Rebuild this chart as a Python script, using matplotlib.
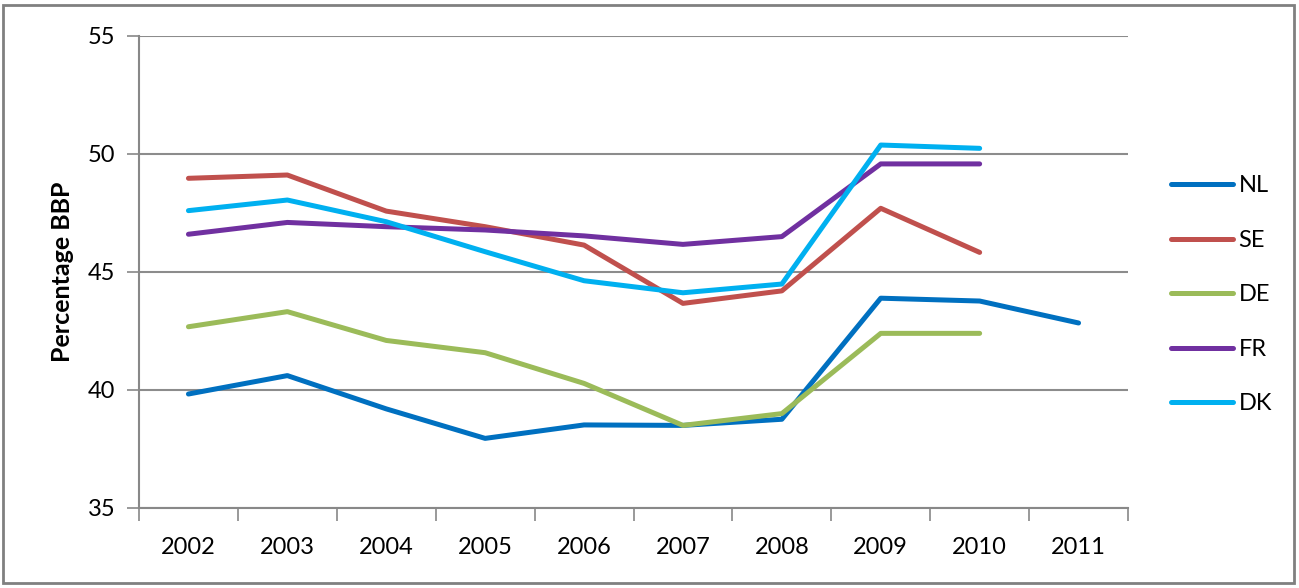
import matplotlib
matplotlib.use("Agg")
import matplotlib.pyplot as plt
from matplotlib.patches import Rectangle
import numpy as np

years = ["2002", "2003", "2004", "2005", "2006", "2007", "2008", "2009", "2010", "2011"]
nl = [39.83, 40.61, 39.2, 37.95, 38.52, 38.5, 38.76, 43.89, 43.77, 42.84]
se = [48.97, 49.11, 47.58, 46.92, 46.14, 43.67, 44.2, 47.7, 45.83, None]
de = [42.68, 43.32, 42.1, 41.58, 40.28, 38.5, 39.0, 42.4, 42.4, None]
fr = [46.6, 47.1, 46.92, 46.78, 46.53, 46.17, 46.5, 49.58, 49.58, None]
dk = [47.6, 48.05, 47.13, 45.86, 44.63, 44.12, 44.49, 50.38, 50.24, None]
series_names = ["NL", "SE", "DE", "FR", "DK"]
series_vals = [nl, se, de, fr, dk]
colors = ["#0070C0", "#C0504D", "#9BBB59", "#7030A0", "#00B0F0"]
yticks = [35, 40, 45, 50, 55]

plt.rcParams['font.family'] = ['Lato', 'DejaVu Sans']

W, H = 1299, 588
fig = plt.figure(figsize=(W / 100, H / 100), dpi=100)
ax = fig.add_axes([139 / W, (H - 508) / H, (1128 - 139) / W, (508 - 36) / H])

x = np.arange(len(years))
for name, vals, c in zip(series_names, series_vals, colors):
    v = np.array([np.nan if a is None else a for a in vals], dtype=float)
    ax.plot(x, v, color=c, lw=3.6, label=name, solid_capstyle='round', solid_joinstyle='round')

ax.set_xlim(-0.5, len(years) - 0.5)
ax.set_ylim(35, 55)
ax.set_yticks(yticks)
ax.set_yticklabels([str(t) for t in yticks], fontsize=17)
ax.set_xticks(np.arange(-0.5, len(years), 1.0))
ax.set_xticklabels([])
ax.set_xticks(x, minor=True)
ax.set_xticklabels(years, minor=True, fontsize=17)
ax.tick_params(axis='x', which='minor', length=0, pad=21)
ax.tick_params(axis='x', which='major', length=9, width=1.2, color='#888888', direction='out')
ax.tick_params(axis='y', length=9, width=1.2, color='#888888', direction='out', pad=8)
ax.grid(axis='y', color='#8c8c8c', lw=1.5)
ax.set_axisbelow(True)
for s in ['top', 'right']:
    ax.spines[s].set_visible(False)
for s in ['left', 'bottom']:
    ax.spines[s].set_color('#888888')
    ax.spines[s].set_linewidth(1.5)
ax.set_ylabel("Percentage BBP", fontsize=18, fontweight='bold', labelpad=10)

fig.legend(loc='upper left', bbox_to_anchor=(1150 / W, 1 - 154 / H), frameon=False,
           fontsize=17, handlelength=2.6, handletextpad=0.25, labelspacing=1.42)

fig.patches.append(Rectangle((3 / W, 5 / H), 1291 / W, 578 / H, transform=fig.transFigure,
                             fill=False, edgecolor='#808080', lw=2))

fig.savefig("out.png", dpi=100)
